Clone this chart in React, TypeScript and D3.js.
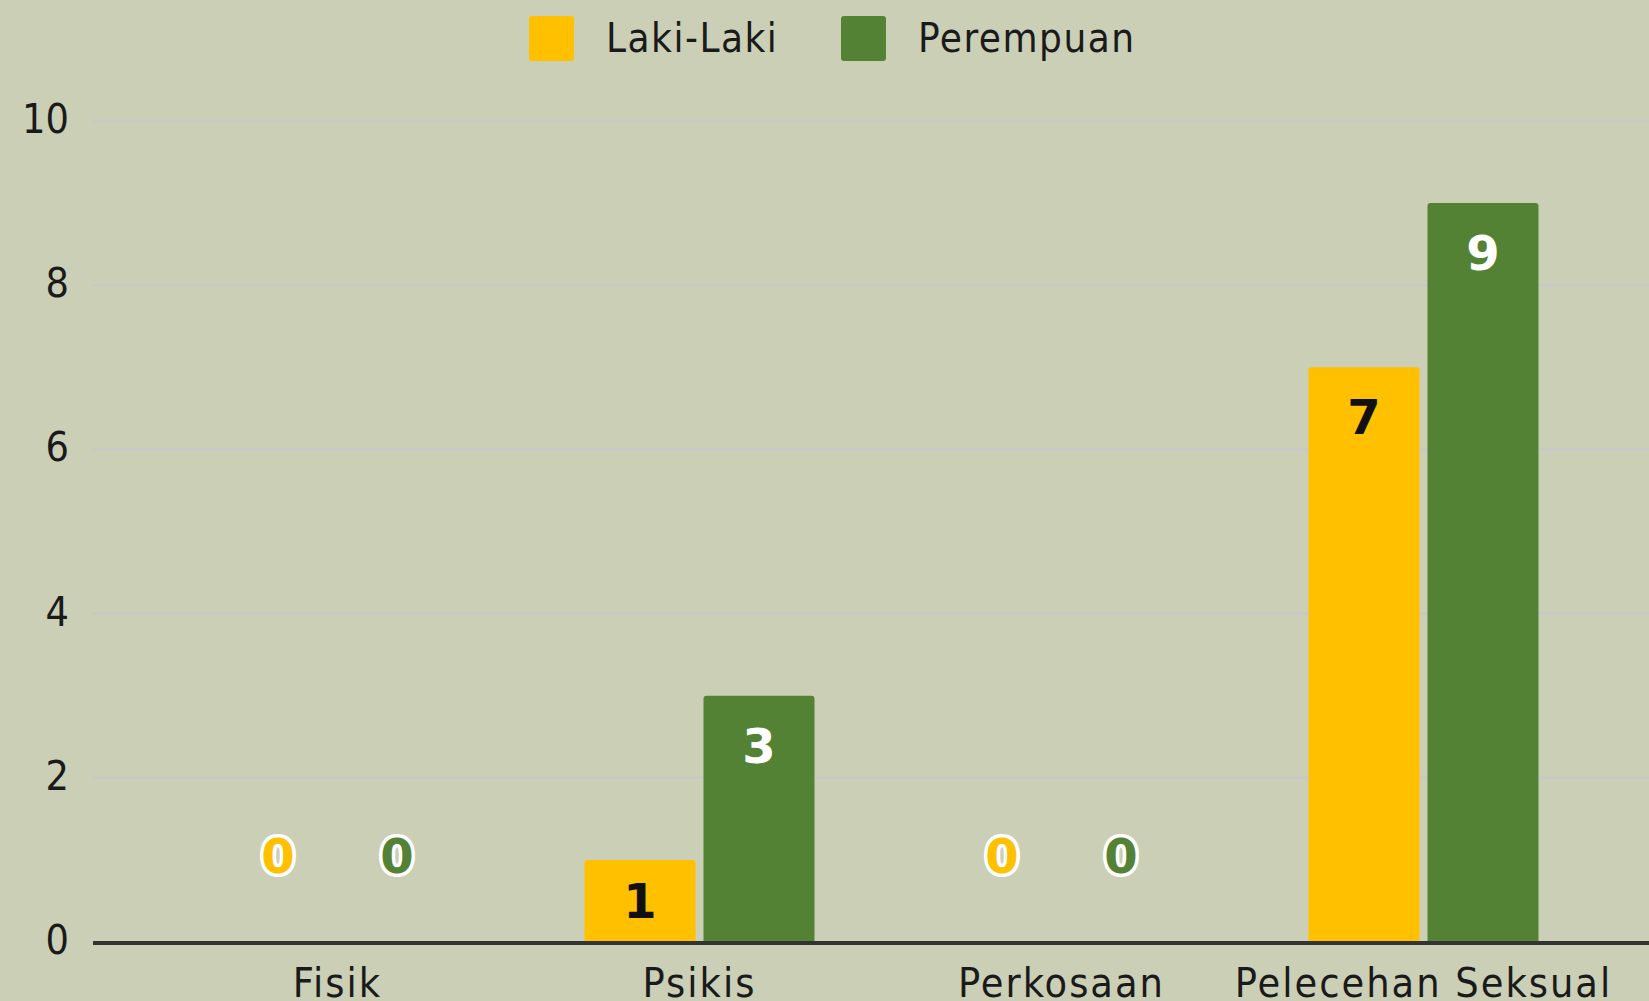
import React, { useEffect } from 'react';
import * as d3 from 'd3';

const categories = ['Fisik', 'Psikis', 'Perkosaan', 'Pelecehan Seksual'];
const seriesNames = ['Laki-Laki', 'Perempuan'];
const lakiLaki = [0, 1, 0, 7];
const perempuan = [0, 3, 0, 9];
const yTicks = [0, 2, 4, 6, 8, 10];

const COLORS = ['#FFC000', '#548235'];
const LABEL_COLORS = ['#111111', '#ffffff'];
const BG = '#cbcfb6';
const FONT = "'DejaVu Sans Condensed', 'DejaVu Sans', sans-serif";

const W = 1649;
const H = 1001;

// top-rounded bar path
function barPath(x: number, y: number, w: number, h: number, r: number) {
  if (h <= 0) return '';
  const rr = Math.min(r, h, w / 2);
  return `M${x},${y + h}V${y + rr}Q${x},${y} ${x + rr},${y}H${x + w - rr}Q${x + w},${y} ${x + w},${y + rr}V${y + h}Z`;
}

export default function App() {
  useEffect(() => {
    document.body.style.margin = '0';
    document.body.style.background = BG;
  }, []);

  const y = d3.scaleLinear().domain([0, 10]).range([942, 121]);
  const x0 = d3.scaleBand<string>()
    .domain(categories)
    .range([156.5, 1604.5])
    .paddingInner(0.3646)
    .paddingOuter(0.1823);
  const x1 = d3.scaleBand<string>()
    .domain(seriesNames)
    .range([0, x0.bandwidth()])
    .paddingInner(0.067);

  const values = [lakiLaki, perempuan];
  const bars = categories.flatMap((c, ci) =>
    seriesNames.map((s, si) => ({ c, s, si, v: values[si][ci] }))
  );

  const plotLeft = 93;
  const plotRight = W;

  const legendItems = [
    { name: seriesNames[0], box: 529, text: 606 },
    { name: seriesNames[1], box: 841, text: 918 },
  ];

  return (
    <svg width={W} height={H} style={{ display: 'block', background: BG }}>
      <rect x={0} y={0} width={W} height={H} fill={BG} />

      {/* grid */}
      {yTicks.filter(t => t > 0).map(t => (
        <line key={t} x1={plotLeft} x2={plotRight} y1={y(t)} y2={y(t)} stroke="#c9c9c4" strokeWidth={3} />
      ))}

      {/* y labels */}
      {yTicks.map(t => (
        <text key={t} x={69} y={y(t) + 12} textAnchor="end" fontFamily={FONT} fontSize={41} fill="#1a1a1a">
          {t}
        </text>
      ))}

      {/* bars */}
      {bars.map(b => {
        const bx = (x0(b.c) ?? 0) + (x1(b.s) ?? 0);
        const top = y(b.v);
        const h = y(0) - top;
        return (
          <path key={b.c + b.s} d={barPath(bx, top, x1.bandwidth(), h, 3)} fill={COLORS[b.si]} />
        );
      })}

      {/* axis line */}
      <line x1={plotLeft} x2={plotRight} y1={y(0) + 1} y2={y(0) + 1} stroke="#333333" strokeWidth={4} />

      {/* data labels */}
      {bars.map(b => {
        const cx = (x0(b.c) ?? 0) + (x1(b.s) ?? 0) + x1.bandwidth() / 2;
        const top = y(b.v);
        if (b.v === 0) {
          return (
            <text key={'l' + b.c + b.s} x={cx} y={y(0) - 86} textAnchor="middle" dominantBaseline="central"
              fontFamily="'DejaVu Sans', sans-serif" fontWeight="bold" fontSize={48}
              fill={COLORS[b.si]} stroke="#ffffff" strokeWidth={7} strokeLinejoin="round"
              style={{ paintOrder: 'stroke' }}>
              {b.v}
            </text>
          );
        }
        const cy = Math.min(top + 50, (top + y(0)) / 2);
        return (
          <text key={'l' + b.c + b.s} x={cx} y={cy} textAnchor="middle" dominantBaseline="central"
            fontFamily="'DejaVu Sans', sans-serif" fontWeight="bold" fontSize={48} fill={LABEL_COLORS[b.si]}>
            {b.v}
          </text>
        );
      })}

      {/* x labels */}
      {categories.map(c => (
        <text key={c} x={(x0(c) ?? 0) + x0.bandwidth() / 2} y={997} textAnchor="middle"
          fontFamily={FONT} fontSize={41} letterSpacing={2} fill="#1a1a1a">
          {c}
        </text>
      ))}

      {/* legend */}
      {legendItems.map((l, i) => (
        <g key={l.name}>
          <rect x={l.box} y={16} width={45} height={45} rx={3} fill={COLORS[i]} />
          <text x={l.text} y={52} fontFamily={FONT} fontSize={40} letterSpacing={1.5} fill="#1a1a1a">
            {l.name}
          </text>
        </g>
      ))}
    </svg>
  );
}
